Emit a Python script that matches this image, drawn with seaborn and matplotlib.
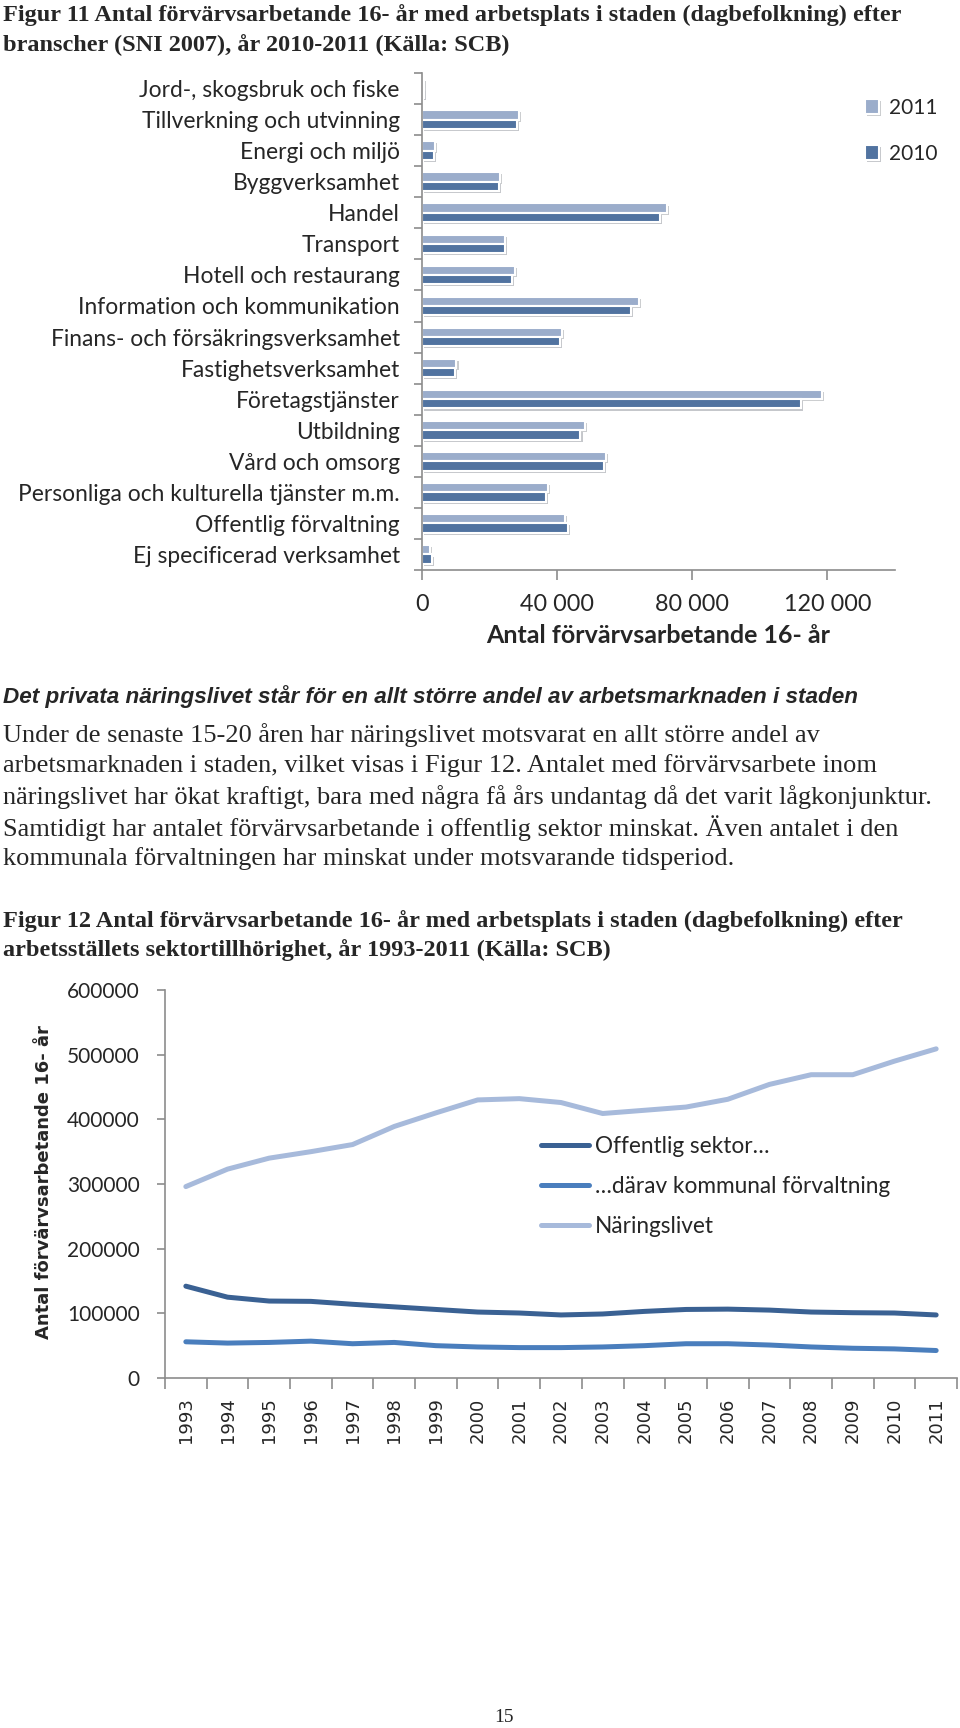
import pandas as pd
import matplotlib.pyplot as plt
import seaborn as sns
import numpy as np
from matplotlib import patheffects as pe

# Data: Figur 11 (branscher 2010-2011)
branscher = ['Jord-, skogsbruk och fiske', 'Tillverkning och utvinning', 'Energi och miljö',
             'Byggverksamhet', 'Handel', 'Transport', 'Hotell och restaurang',
             'Information och kommunikation', 'Finans- och försäkringsverksamhet',
             'Fastighetsverksamhet', 'Företagstjänster', 'Utbildning', 'Vård och omsorg',
             'Personliga och kulturella tjänster m.m.', 'Offentlig förvaltning',
             'Ej specificerad verksamhet']
antal_2011 = [700, 28600, 3700, 23200, 72600, 24600, 27600, 64300, 41500,
              10200, 118300, 48100, 54500, 37400, 42300, 2300]
antal_2010 = [600, 28100, 3600, 22900, 70400, 24600, 26700, 61800, 40800,
              9800, 112100, 46900, 53900, 36600, 43200, 2900]
bar_ticks = [0, 40000, 80000, 120000]
bar_ticklabels = ['0', '40 000', '80 000', '120 000']

# Data: Figur 12 (sektor 1993-2011)
years = [str(y) for y in range(1993, 2012)]
offentlig = [142000, 125000, 119000, 118500, 114000, 110000, 106000, 102000, 100500, 97500,
             99000, 103000, 106000, 106500, 105000, 102000, 101000, 100500, 97500]
kommunal = [56000, 54000, 55000, 57000, 53000, 55000, 50000, 48000, 47000, 47000,
            48000, 50000, 53000, 53000, 51000, 48000, 46000, 45000, 42500]
naringsliv = [296000, 323000, 340000, 350000, 361000, 389000, 410000, 430000, 432000, 426000,
              409000, 414000, 419000, 431000, 454000, 469000, 469000, 490000, 509000]
line_names = ['Offentlig sektor…', '…därav kommunal förvaltning', 'Näringslivet']

sns.set_style('white')
plt.rcParams['font.family'] = ['Lato', 'DejaVu Sans']

W, H = 960, 1728
fig = plt.figure(figsize=(W / 100, H / 100), dpi=100)


def fx(px):
    return px / W


def fy(py):
    return 1 - py / H


serif = ['Liberation Serif', 'DejaVu Serif']

# Page texts
fig.text(fx(3), fy(15), 'Figur 11 Antal förvärvsarbetande 16- år med arbetsplats i staden (dagbefolkning) efter',
         family=serif, fontweight='bold', fontsize=17.5, va='center')
fig.text(fx(3), fy(45), 'branscher (SNI 2007), år 2010-2011 (Källa: SCB)',
         family=serif, fontweight='bold', fontsize=17.5, va='center')

fig.text(fx(3), fy(697), 'Det privata näringslivet står för en allt större andel av arbetsmarknaden i staden',
         family=['Liberation Sans', 'DejaVu Sans'], fontweight='bold', style='italic', fontsize=16.2, va='center')
para = ['Under de senaste 15-20 åren har näringslivet motsvarat en allt större andel av',
        'arbetsmarknaden i staden, vilket visas i Figur 12. Antalet med förvärvsarbete inom',
        'näringslivet har ökat kraftigt, bara med några få års undantag då det varit lågkonjunktur.',
        'Samtidigt har antalet förvärvsarbetande i offentlig sektor minskat. Även antalet i den',
        'kommunala förvaltningen har minskat under motsvarande tidsperiod.']
for i, line in enumerate(para):
    fig.text(fx(3), fy(735 + i * 31), line, family=serif, fontsize=19, va='center')

fig.text(fx(3), fy(921), 'Figur 12 Antal förvärvsarbetande 16- år med arbetsplats i staden (dagbefolkning) efter',
         family=serif, fontweight='bold', fontsize=17.5, va='center')
fig.text(fx(3), fy(950), 'arbetsställets sektortillhörighet, år 1993-2011 (Källa: SCB)',
         family=serif, fontweight='bold', fontsize=17.5, va='center')
fig.text(fx(504), fy(1717), '15', family=serif, fontsize=14, ha='center', va='center')

# ---- Figur 11: horizontal bars ----
ax1 = fig.add_axes([fx(422), fy(570), (895 - 422) / W, (570 - 73) / H])
df_bar = pd.DataFrame({
    'Bransch': branscher * 2,
    'Antal': antal_2011 + antal_2010,
    'År': ['2011'] * len(branscher) + ['2010'] * len(branscher),
})
sns.barplot(data=df_bar, y='Bransch', x='Antal', hue='År', hue_order=['2011', '2010'],
            palette=['#93abd3', '#4471ad'], orient='h', width=0.6, errorbar=None,
            edgecolor='white', linewidth=1.5, ax=ax1)
for patch in ax1.patches:
    patch.set_path_effects([pe.SimplePatchShadow(offset=(1.5, -1.5), alpha=0.25), pe.Normal()])

ax1.set_xlim(0, 140000)
ax1.set_ylim(len(branscher) - 0.5, -0.5)
ax1.set_xticks(bar_ticks)
ax1.set_xticklabels(bar_ticklabels, fontsize=16.8)
ax1.set_yticks(range(len(branscher)))
ax1.set_yticklabels(branscher, fontsize=16.4)
ax1.set_yticks(np.arange(-0.5, len(branscher), 1), minor=True)
ax1.tick_params(axis='y', which='major', length=0, pad=16)
ax1.tick_params(axis='y', which='minor', length=6, color='#8c8c8c', width=1.2, left=True)
ax1.tick_params(axis='x', length=7, color='#8c8c8c', width=1.2, bottom=True, pad=10)
ax1.set_xlabel('Antal förvärvsarbetande 16- år', fontsize=18, fontweight='bold', labelpad=7)
ax1.set_ylabel('')
for side in ['top', 'right']:
    ax1.spines[side].set_visible(False)
for side in ['left', 'bottom']:
    ax1.spines[side].set_color('#8c8c8c')
    ax1.spines[side].set_linewidth(1.2)

handles, labels = ax1.get_legend_handles_labels()
ax1.legend(handles, labels, loc='upper left', bbox_to_anchor=(fx(846), fy(79)),
           bbox_transform=fig.transFigure, frameon=False, fontsize=15,
           handlelength=0.7, handleheight=0.7, handletextpad=0.45, labelspacing=1.25)

# ---- Figur 12: lines ----
ax2 = fig.add_axes([fx(165), fy(1378), (957 - 165) / W, (1378 - 990) / H])
df_line = pd.DataFrame({
    'År': years * 3,
    'Antal': offentlig + kommunal + naringsliv,
    'Sektor': [line_names[0]] * len(years) + [line_names[1]] * len(years) + [line_names[2]] * len(years),
})
df_line['pos'] = df_line['År'].map({y: i for i, y in enumerate(years)})
sns.lineplot(data=df_line, x='pos', y='Antal', hue='Sektor', hue_order=line_names,
             palette=['#3a6193', '#4a7ebd', '#a7badb'], linewidth=3.6, ax=ax2)

ax2.set_xlim(-0.5, len(years) - 0.5)
ax2.set_ylim(0, 600000)
ax2.set_yticks(range(0, 600001, 100000))
ax2.set_yticklabels([str(v) for v in range(0, 600001, 100000)], fontsize=15)
ax2.set_xticks(range(len(years)))
ax2.set_xticklabels(years, rotation=90, fontsize=13, family=['DejaVu Sans'])
ax2.set_xticks(np.arange(-0.5, len(years), 1), minor=True)
ax2.tick_params(axis='x', which='major', length=0, pad=14)
ax2.tick_params(axis='x', which='minor', length=8, color='#8c8c8c', width=1.2, bottom=True)
ax2.tick_params(axis='y', length=6, color='#8c8c8c', width=1.2, left=True, pad=12)
ax2.set_xlabel('')
ax2.set_ylabel('')
for side in ['top', 'right']:
    ax2.spines[side].set_visible(False)
for side in ['left', 'bottom']:
    ax2.spines[side].set_color('#8c8c8c')
    ax2.spines[side].set_linewidth(1.2)
fig.text(fx(44), fy(1182), 'Antal förvärvsarbetande 16- år', rotation=90, family=['DejaVu Sans'],
         fontweight='bold', fontsize=13, ha='center', va='center')

ax2.legend(loc='upper left', bbox_to_anchor=(fx(521), fy(1116)), bbox_transform=fig.transFigure,
           frameon=False, fontsize=16.3, handlelength=2.1, handletextpad=0.25, labelspacing=0.82)

plt.savefig('out.png', dpi=100)
